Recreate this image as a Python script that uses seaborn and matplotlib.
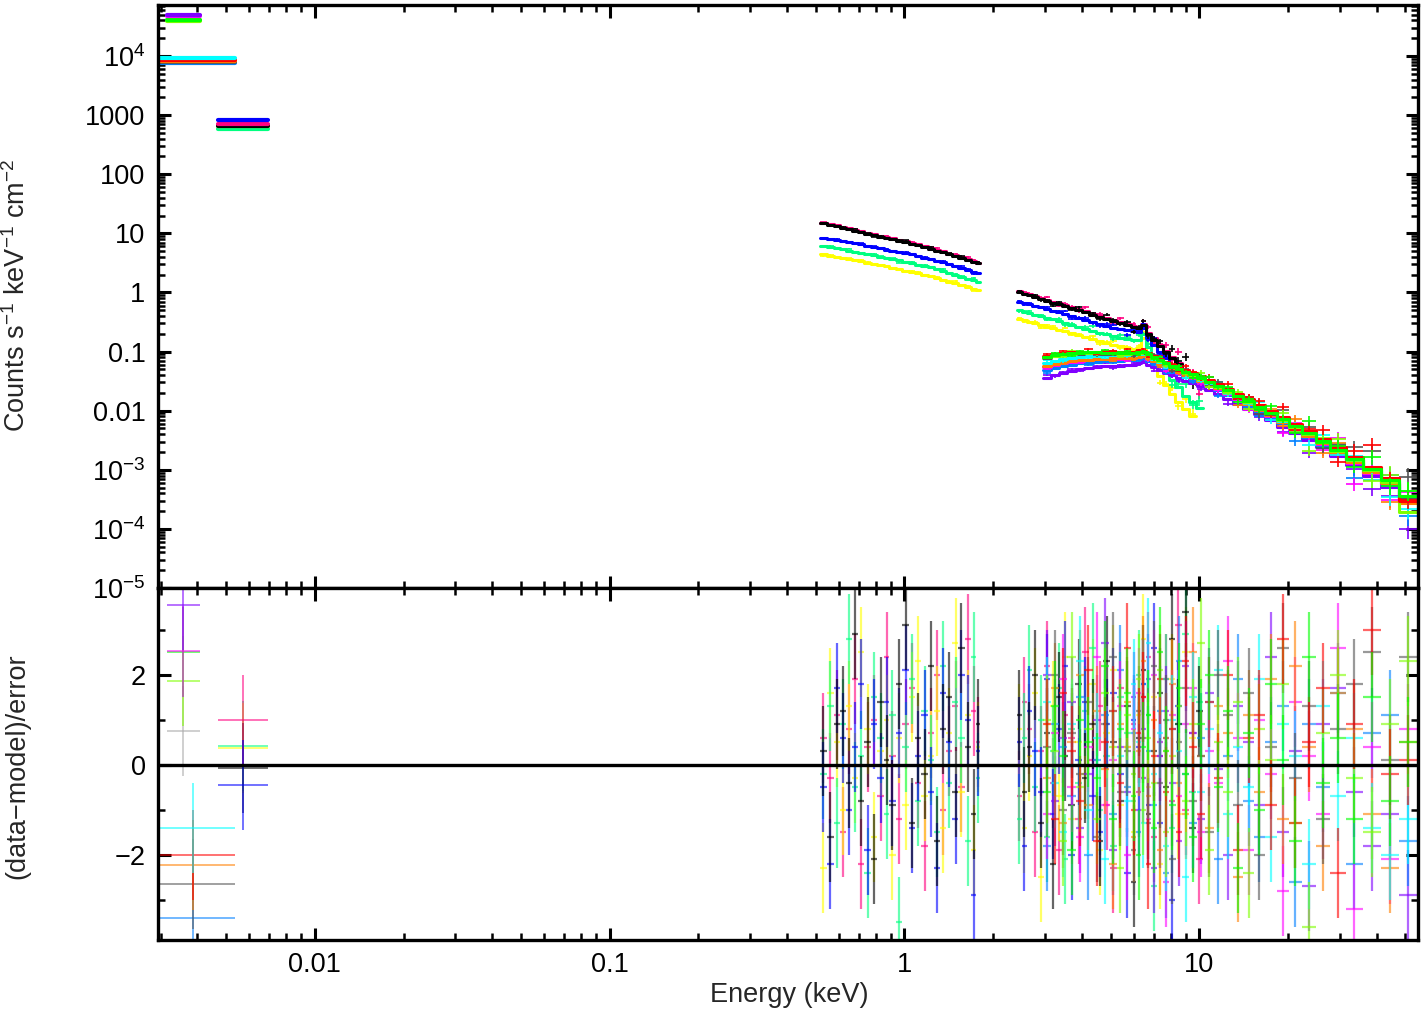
import numpy as np
import matplotlib.pyplot as plt
import matplotlib.ticker as mticker
import seaborn as sns

# ---- energy grids (bin centres, keV) ----
e_soft = [0.53, 0.56, 0.59, 0.62, 0.65, 0.68, 0.71, 0.75, 0.79, 0.83, 0.87, 0.91, 0.96,
          1.01, 1.06, 1.11, 1.17, 1.23, 1.29, 1.35, 1.42, 1.49, 1.56, 1.64, 1.72, 1.78]
e_hard = [2.45, 2.55, 2.65, 2.78, 2.9, 3.05, 3.2, 3.35, 3.5, 3.7, 3.9, 4.1, 4.35, 4.6, 4.85,
          5.1, 5.4, 5.7, 6.0, 6.25, 6.45, 6.7, 7.0, 7.35, 7.7, 8.1, 8.5, 9.0, 9.5, 10.0]
e_wide = [3.05, 3.25, 3.45, 3.7, 3.95, 4.2, 4.5, 4.8, 5.1, 5.4, 5.7, 6.0, 6.25, 6.45, 6.7,
          7.0, 7.35, 7.7, 8.1, 8.55, 9.0, 9.5, 10.1, 10.8, 11.6, 12.5, 13.5, 14.7, 16.0, 17.5,
          19.2, 21.2, 23.5, 26.2, 29.5, 33.5, 38.5, 44.5, 51.0]

# fractional 1-sigma errors on each grid
err_soft = [0.025, 0.025, 0.025, 0.025, 0.025, 0.025, 0.025, 0.025, 0.025, 0.025, 0.025, 0.025, 0.025,
            0.025, 0.028, 0.028, 0.028, 0.028, 0.03, 0.03, 0.03, 0.032, 0.032, 0.035, 0.035, 0.04]
err_hard = [0.04, 0.04, 0.04, 0.045, 0.045, 0.05, 0.05, 0.05, 0.055, 0.055, 0.06, 0.06, 0.065, 0.065, 0.07,
            0.07, 0.075, 0.08, 0.08, 0.08, 0.08, 0.09, 0.1, 0.11, 0.12, 0.13, 0.14, 0.16, 0.18, 0.2]
err_wide = [0.06, 0.055, 0.05, 0.05, 0.05, 0.05, 0.05, 0.05, 0.05, 0.05, 0.05, 0.05, 0.05, 0.05, 0.055,
            0.06, 0.06, 0.065, 0.07, 0.07, 0.075, 0.08, 0.085, 0.09, 0.095, 0.1, 0.11, 0.12, 0.13, 0.14,
            0.15, 0.17, 0.19, 0.21, 0.23, 0.26, 0.29, 0.32, 0.36]

# ---- soft band models (counts s-1 keV-1 cm-2) and residuals ----
soft_pink = [15.2, 14.4, 13.6, 12.8, 12.1, 11.4, 10.8, 10.2, 9.6, 9.1, 8.6, 8.2, 7.7,
             7.3, 6.9, 6.5, 6.1, 5.7, 5.3, 4.95, 4.55, 4.25, 3.95, 3.65, 3.35, 3.2]
soft_black = [14.8, 14.0, 13.2, 12.4, 11.7, 11.1, 10.5, 9.9, 9.3, 8.8, 8.3, 7.9, 7.5,
              7.1, 6.7, 6.3, 5.9, 5.5, 5.1, 4.8, 4.4, 4.1, 3.8, 3.5, 3.25, 3.1]
soft_blue = [8.5, 8.1, 7.8, 7.4, 7.1, 6.8, 6.5, 6.2, 5.9, 5.6, 5.3, 5.1, 4.8,
             4.6, 4.4, 4.1, 3.9, 3.7, 3.45, 3.25, 3.0, 2.8, 2.6, 2.4, 2.25, 2.1]
soft_spring = [6.2, 5.9, 5.6, 5.4, 5.1, 4.9, 4.7, 4.5, 4.3, 4.05, 3.85, 3.7, 3.5,
               3.3, 3.15, 2.95, 2.8, 2.65, 2.48, 2.32, 2.15, 2.0, 1.86, 1.72, 1.6, 1.5]
soft_yellow = [4.4, 4.2, 4.0, 3.85, 3.65, 3.5, 3.35, 3.2, 3.05, 2.9, 2.75, 2.6, 2.5,
               2.35, 2.22, 2.1, 1.98, 1.87, 1.75, 1.64, 1.53, 1.42, 1.33, 1.23, 1.15, 1.08]

res_soft_pink = [0.6, -0.3, 1.1, -1.5, 0.8, 1.9, -2.2, 0.4, 1.0, -0.7, 2.4, 0.2, -1.2,
                 0.9, 1.7, -0.4, -1.8, 0.7, 2.0, -1.0, 0.3, 1.3, -0.5, 2.8, 1.2, 0.5]
res_soft_black = [0.3, -1.6, 0.9, 1.2, -0.4, 2.9, -0.8, 0.5, -2.1, 1.4, 0.1, -0.9, 1.8,
                  3.1, -1.3, 0.6, -0.2, 2.2, -1.7, 0.8, 1.5, -0.6, 2.6, 0.4, -1.1, 0.9]
res_soft_blue = [-0.5, -2.2, 1.7, 0.6, -1.0, 0.4, 1.8, -1.9, 0.9, -0.3, 1.4, -0.8, 0.7,
                 2.1, -1.4, 0.2, 1.1, -0.6, -2.3, 1.6, 0.5, -1.2, 2.0, 1.0, -2.9, 0.3]
res_soft_spring = [-0.2, 1.3, -1.3, 0.9, 2.8, -0.5, 0.2, -2.4, 1.5, 0.6, -1.1, 1.1, -3.5,
                   0.4, 1.9, -0.8, 1.2, 0.1, -1.5, 2.2, -0.4, 1.4, 0.6, -1.7, 2.4, -0.3]
res_soft_yellow = [-2.3, 1.6, 0.5, -1.0, 1.3, -0.3, 2.5, 0.8, -1.6, 0.3, 1.0, -2.0, 0.6,
                   -0.9, 1.5, 2.3, -0.7, 0.2, 1.2, -1.4, 0.7, 2.7, -0.6, 1.1, -1.9, 0.4]

# ---- hard band, same instruments ----
hard_pink = [1.04, 0.98, 0.93, 0.86, 0.81, 0.75, 0.70, 0.66, 0.61, 0.56, 0.52, 0.48, 0.44, 0.405, 0.375,
             0.345, 0.32, 0.29, 0.27, 0.26, 0.29, 0.21, 0.167, 0.13, 0.102, 0.081, 0.064, 0.049, 0.037, 0.029]
hard_black = [1.0, 0.94, 0.89, 0.83, 0.78, 0.72, 0.67, 0.63, 0.59, 0.54, 0.50, 0.46, 0.42, 0.39, 0.36,
              0.33, 0.305, 0.28, 0.26, 0.25, 0.28, 0.2, 0.16, 0.125, 0.098, 0.078, 0.062, 0.047, 0.036, 0.028]
hard_blue = [0.70, 0.66, 0.63, 0.59, 0.56, 0.52, 0.49, 0.46, 0.43, 0.40, 0.37, 0.345, 0.32, 0.295, 0.275,
             0.255, 0.24, 0.228, 0.22, 0.215, 0.25, 0.17, 0.13, 0.1, 0.078, 0.06, 0.047]
hard_spring = [0.50, 0.475, 0.45, 0.42, 0.40, 0.37, 0.35, 0.33, 0.31, 0.285, 0.265, 0.245, 0.225, 0.21, 0.195,
               0.182, 0.172, 0.165, 0.16, 0.16, 0.20, 0.12, 0.085, 0.062, 0.045, 0.033, 0.025, 0.018, 0.014, 0.011]
hard_yellow = [0.36, 0.34, 0.32, 0.30, 0.285, 0.265, 0.25, 0.235, 0.22, 0.205, 0.19, 0.175, 0.162, 0.15, 0.14,
               0.13, 0.122, 0.116, 0.112, 0.115, 0.17, 0.08, 0.055, 0.038, 0.027, 0.019, 0.014, 0.0105, 0.008]

res_hard_pink = [-0.7, 1.4, 0.8, -1.5, 0.3, 2.2, -0.4, -1.9, 1.1, 0.6, -1.2, 2.5, 0.1, 1.3, -0.9,
                 -2.3, 1.7, 0.4, 0.9, -0.6, 1.5, 2.4, -1.6, 0.2, 1.9, -0.8, 3.1, -1.0, 0.7, -2.1]
res_hard_black = [1.1, -0.6, 0.4, 2.0, -1.3, 0.7, -2.2, 1.5, 0.2, -0.9, 1.8, -0.3, 0.9, -1.7, 2.3,
                  0.5, -0.8, 1.3, -2.6, 0.6, 2.1, -1.1, 0.3, 1.6, -0.5, 2.8, 0.9, 3.4, -1.4, 1.2]
res_hard_blue = [0.5, -1.8, 1.2, 0.3, -0.6, 1.9, -1.1, 0.8, 2.2, -2.0, 0.1, 1.4, -0.7, -1.5, 0.9,
                 1.6, -0.2, -2.4, 1.0, 0.4, 1.8, -0.9, 2.6, -1.3, 0.6, -3.0, 1.3]
res_hard_spring = [-1.2, 0.6, 2.1, -0.5, 1.0, -1.6, 0.3, 1.7, -2.1, 0.8, -0.4, 1.2, 2.6, -1.0, 0.2,
                   -1.8, 1.5, 0.7, -0.8, 2.0, -0.3, 1.1, -2.7, 0.5, 1.9, -1.4, 0.9, 2.9, -0.6, 1.4]
res_hard_yellow = [0.8, -1.4, 0.2, 1.6, -2.5, 0.9, 1.3, -0.7, 2.4, -1.2, 0.5, -0.2, 1.8, -1.9, 0.7,
                   2.1, -0.9, 0.4, -1.5, 1.1, 2.8, -0.5, 1.5, -2.2, 0.3, 1.9, -1.1, 2.5, 0.6]

# ---- broad band (3-55 keV) spectra ----
wide_purple = [0.036, 0.040, 0.044, 0.047, 0.050, 0.052, 0.054, 0.056, 0.057, 0.058, 0.059, 0.060, 0.063,
               0.067, 0.060, 0.054, 0.049, 0.044, 0.040, 0.036, 0.032, 0.029, 0.026, 0.022, 0.019, 0.016,
               0.0132, 0.0108, 0.0087, 0.0069, 0.0054, 0.0042, 0.0032, 0.0024, 0.0017, 0.0012, 0.0008,
               0.00052, 0.00028]
wide_lightblue = [0.048, 0.053, 0.057, 0.06, 0.063, 0.065, 0.067, 0.068, 0.069, 0.07, 0.071, 0.072, 0.075,
                  0.078, 0.07, 0.063, 0.057, 0.051, 0.046, 0.041, 0.037, 0.034, 0.03, 0.026, 0.022, 0.0185,
                  0.0152, 0.0124, 0.01, 0.0079, 0.0062, 0.0047, 0.0036, 0.0026, 0.0019, 0.0013, 0.00088,
                  0.00058, 0.0003]
wide_magenta = [0.055, 0.06, 0.064, 0.067, 0.07, 0.072, 0.074, 0.075, 0.076, 0.076, 0.077, 0.078, 0.081,
                0.084, 0.076, 0.068, 0.061, 0.055, 0.049, 0.044, 0.040, 0.036, 0.032, 0.027, 0.023, 0.0195,
                0.016, 0.013, 0.0104, 0.0082, 0.0064, 0.0049, 0.0037, 0.0027, 0.0019, 0.0013, 0.0009,
                0.0006, 0.00032]
wide_orange = [0.058, 0.062, 0.066, 0.069, 0.071, 0.073, 0.075, 0.076, 0.077, 0.077, 0.078, 0.079, 0.082,
               0.085, 0.077, 0.069, 0.062, 0.056, 0.050, 0.045, 0.041, 0.037, 0.032, 0.028, 0.024, 0.020,
               0.0163, 0.0132, 0.0106, 0.0083, 0.0065, 0.0050, 0.0038, 0.0028, 0.00195, 0.00135, 0.00092,
               0.0006, 0.00027]
wide_cyan = [0.065, 0.07, 0.074, 0.078, 0.081, 0.083, 0.085, 0.086, 0.086, 0.086, 0.086, 0.087, 0.090,
             0.093, 0.084, 0.075, 0.067, 0.060, 0.054, 0.048, 0.043, 0.039, 0.034, 0.029, 0.025, 0.021,
             0.017, 0.0138, 0.011, 0.0087, 0.0068, 0.0052, 0.0040, 0.0029, 0.0021, 0.00148, 0.001,
             0.00065, 0.00033]
wide_grey = [0.078, 0.083, 0.087, 0.09, 0.092, 0.093, 0.093, 0.092, 0.091, 0.09, 0.09, 0.091, 0.094,
             0.096, 0.087, 0.077, 0.069, 0.062, 0.055, 0.049, 0.044, 0.04, 0.035, 0.03, 0.0255, 0.0213,
             0.0175, 0.0141, 0.0113, 0.0089, 0.007, 0.0054, 0.0041, 0.003, 0.0022, 0.0015, 0.001,
             0.00066, 0.00032]
wide_lime = [0.08, 0.085, 0.089, 0.092, 0.094, 0.095, 0.095, 0.094, 0.093, 0.092, 0.092, 0.093, 0.096,
             0.098, 0.088, 0.078, 0.07, 0.063, 0.056, 0.05, 0.045, 0.04, 0.035, 0.03, 0.0255, 0.0215,
             0.0176, 0.0142, 0.0114, 0.009, 0.007, 0.0054, 0.0041, 0.003, 0.0021, 0.0015, 0.001,
             0.00062, 0.00019]
wide_red = [0.085, 0.09, 0.094, 0.097, 0.099, 0.1, 0.1, 0.099, 0.098, 0.097, 0.097, 0.098, 0.101,
            0.103, 0.093, 0.083, 0.074, 0.066, 0.059, 0.053, 0.048, 0.043, 0.038, 0.033, 0.028, 0.0235,
            0.0195, 0.0157, 0.0126, 0.0099, 0.0077, 0.0059, 0.0045, 0.0033, 0.0024, 0.00165, 0.0011,
            0.00072, 0.0003]
wide_green = [0.082, 0.087, 0.091, 0.094, 0.096, 0.097, 0.097, 0.096, 0.095, 0.094, 0.094, 0.095, 0.098,
              0.100, 0.090, 0.080, 0.071, 0.064, 0.057, 0.051, 0.046, 0.041, 0.036, 0.031, 0.026, 0.022,
              0.018, 0.0145, 0.0117, 0.0092, 0.0072, 0.0055, 0.0042, 0.0031, 0.0022, 0.00155, 0.00105,
              0.00068, 0.00036]

res_wide_purple = [2.0, -0.8, 0.6, 1.4, -1.4, -0.2, 1.0, 2.7, -1.9, 0.4, -0.6, 1.5, -1.0, 0.8, 1.9,
                   -2.3, 0.2, 1.2, -0.4, -1.7, 2.2, 0.7, -1.2, 1.6, -0.1, -2.0, 1.3, 0.5, -0.9, 2.4,
                   -1.5, 0.3, -2.7, 0.9, 1.7, -0.6, -1.8, -1.1, -2.9]
res_wide_lightblue = [-1.8, 0.9, 0.4, -0.7, 1.5, -2.0, 0.1, 1.1, -1.1, 2.1, -0.5, 0.7, -1.5, 1.8, 0.3,
                      -0.9, 1.2, -2.4, 0.8, 2.3, -0.2, -1.3, 0.6, 1.4, -2.1, 0.2, 1.9, -0.8, -1.6, 0.5,
                      1.3, -2.6, 0.9, -0.5, 1.6, -2.2, 0.7, 1.1, -1.7]
res_wide_magenta = [-1.1, 0.7, 1.9, -0.5, -1.6, 0.4, 2.4, -0.9, 0.1, 1.3, -2.0, 0.8, 1.6, -0.3, -1.2,
                    2.0, 0.5, -2.6, 1.1, -0.7, 0.9, 1.7, -1.5, 0.3, -0.4, 2.3, 0.6, -1.9, 1.0, -0.2,
                    -2.8, 1.4, 0.2, -1.1, 2.6, -3.2, 0.4, -2.1, 0.8]
res_wide_orange = [-0.3, 1.7, -1.3, 0.5, 2.0, -0.9, 1.2, -0.1, -2.2, 0.9, 1.4, -1.6, 0.3, 2.3, -0.7,
                   1.0, -1.9, 0.6, 1.8, -0.4, -1.1, 2.5, 0.2, -1.4, 1.3, 0.7, -2.5, 1.1, -0.6, 1.9,
                   -1.2, 2.2, 0.4, -1.8, 1.6, 0.8, -1.1, -2.3, 0.5]
res_wide_cyan = [1.4, -0.4, -1.5, 0.9, 2.3, -1.0, 0.6, -2.1, 1.2, 0.2, -0.8, 1.8, 0.5, -1.3, 2.7,
                 -0.2, 0.7, -1.8, 1.0, 0.3, -2.5, 1.5, -0.6, 0.8, 2.1, -1.1, 0.4, -0.5, 1.9, -1.6,
                 0.9, 0.2, -2.2, 1.3, -0.7, 0.6, -1.4, -2.0, -1.2]
res_wide_grey = [0.4, 2.0, -1.0, 0.7, -0.2, 1.4, -1.6, 0.9, 2.4, -0.6, 0.3, -1.9, 1.2, 0.6, -1.3,
                 2.2, -0.4, 1.0, -2.1, 0.5, 1.7, -0.8, 0.2, -1.5, 2.0, 1.1, -0.9, 1.6, -2.0, 0.4,
                 2.6, -0.3, 1.3, -1.2, 0.8, 1.8, 2.5, 0.1, 2.4]
res_wide_lime = [1.0, 0.3, -1.7, 2.4, -0.5, 0.8, -1.2, 1.6, 0.4, -2.3, 1.1, -0.2, 1.9, -1.0, 0.6,
                 -0.4, 2.1, -1.5, 0.2, 1.3, -0.8, 0.9, 2.7, -1.9, 0.5, -0.6, 1.4, -2.4, 0.8, 0.1,
                 1.8, -1.3, -3.6, 0.7, 2.0, -0.3, -1.5, 0.9, 2.3]
res_wide_red = [0.9, -1.2, 1.6, 0.3, -0.8, 2.1, -1.7, 0.5, 1.2, -0.4, 2.6, -1.0, 0.7, 1.5, -2.2,
                0.2, 1.9, -0.6, 0.8, -1.5, 2.3, 0.4, -1.1, 1.4, -0.3, 2.0, -1.9, 0.6, 1.1, -0.9,
                2.8, -1.3, 0.5, 1.7, -2.4, 0.9, 3.0, -0.2, 0.1]
res_wide_green = [-0.6, 1.3, 0.2, -1.9, 1.0, 0.5, -0.3, 2.2, -1.2, 0.8, 1.6, -0.7, -2.0, 0.4, 1.1,
                  -1.4, 2.5, 0.3, -0.9, 1.7, -0.2, -1.6, 0.9, 2.0, -0.5, 1.2, -2.3, 0.7, -1.0, 1.8,
                  0.1, -1.7, 2.4, -0.4, 0.6, -1.2, 1.5, -0.8, 0.5]

# ---- optical/UV photometric points: bin edges (keV), rates, residuals ----
uv_lo = [0.00315, 0.0028, 0.00469]
uv_hi = [0.00407, 0.00536, 0.00693]
uv1_colors = ['lightgrey', 'lime', 'green', 'magenta', 'purple']
uv1_rate = [4.1e4, 3.9e4, 4.0e4, 4.7e4, 4.9e4]
uv1_res = [0.76, 1.87, 2.5, 2.52, 3.56]
uv2_colors = ['lightblue', 'darkgrey', 'orange', 'red', 'cyan']
uv2_rate = [7.7e3, 8.0e3, 8.3e3, 8.6e3, 9.3e3]
uv2_res = [-3.4, -2.64, -2.22, -2.0, -1.4]
uv3_colors = ['spring', 'yellow', 'black', 'pink', 'blue']
uv3_rate = [590, 650, 660, 700, 830]
uv3_res = [0.42, 0.38, -0.07, 1.0, -0.44]

xspec = {'black': '#000000', 'red': '#ff0000', 'green': '#00ff00', 'blue': '#0000ff',
         'cyan': '#00ffff', 'magenta': '#ff00ff', 'yellow': '#ffff00', 'orange': '#ff8000',
         'lime': '#80ff00', 'spring': '#00ff80', 'lightblue': '#0080ff', 'purple': '#8000ff',
         'pink': '#ff0080', 'darkgrey': '#555555', 'lightgrey': '#aaaaaa'}


def edges_of(centres):
    lc = np.log10(centres)
    mid = (lc[1:] + lc[:-1]) / 2
    return 10 ** np.concatenate([[2 * lc[0] - mid[0]], mid, [2 * lc[-1] - mid[-1]]])


def draw_spectrum(ax_top, ax_res, grid, relerr, model, resid, cname):
    c = xspec[cname]
    n = min(len(model), len(resid))
    edges = edges_of(np.array(grid))[:n + 1]
    e = np.array(grid[:n])
    m = np.array(model[:n])
    r = np.array(resid[:n])
    f = np.array(relerr[:n])
    xerr = [e - edges[:-1], edges[1:] - e]
    data = m * np.exp(r * f)
    yerr = [data * (1 - np.exp(-f)), data * (np.exp(f) - 1)]
    ax_top.errorbar(e, data, xerr=xerr, yerr=yerr, fmt='none', ecolor=c, elinewidth=1.2, capsize=0)
    sns.lineplot(x=edges, y=np.append(m, m[-1]), drawstyle='steps-post', color=c, lw=2.2,
                 estimator=None, sort=False, ax=ax_top)
    ax_res.errorbar(e, r, xerr=xerr, yerr=1, fmt='none', ecolor=c, elinewidth=1.6,
                    alpha=0.6, capsize=0)


def draw_uv(ax_top, ax_res, k, colors, rates, resids):
    lo, hi = uv_lo[k], uv_hi[k]
    mid = np.sqrt(lo * hi)
    for cname, rate, res in zip(colors, rates, resids):
        c = xspec[cname]
        sns.lineplot(x=[lo, hi], y=[rate, rate], color=c, lw=3.0, estimator=None, sort=False, ax=ax_top)
        ax_top.errorbar([mid], [rate], yerr=[[rate * 0.02], [rate * 0.02]], fmt='none', ecolor=c, elinewidth=1)
        ax_res.errorbar([mid], [res], xerr=[[mid - lo], [hi - mid]], yerr=1, fmt='none',
                        ecolor=c, elinewidth=1.3, alpha=0.6, capsize=0)


sns.set_theme(style='ticks')
plt.rcParams['font.family'] = ['Liberation Sans', 'DejaVu Sans']
plt.rcParams['mathtext.fontset'] = 'custom'
plt.rcParams['mathtext.rm'] = 'Liberation Sans'
plt.rcParams['mathtext.it'] = 'Liberation Sans'
plt.rcParams['axes.unicode_minus'] = True

fig = plt.figure(figsize=(14.25, 10.13), dpi=100)
ax = fig.add_axes([0.1109, 0.4195, 0.8842, 0.5756])
axr = fig.add_axes([0.1109, 0.0721, 0.8842, 0.3474], sharex=ax)
for a in (ax, axr):
    a.set_xscale('log')
ax.set_yscale('log')

draw_uv(ax, axr, 0, uv1_colors, uv1_rate, uv1_res)
draw_uv(ax, axr, 1, uv2_colors, uv2_rate, uv2_res)
draw_uv(ax, axr, 2, uv3_colors, uv3_rate, uv3_res)

soft = [(soft_pink, res_soft_pink, 'pink'), (soft_yellow, res_soft_yellow, 'yellow'),
        (soft_spring, res_soft_spring, 'spring'), (soft_blue, res_soft_blue, 'blue'),
        (soft_black, res_soft_black, 'black')]
for mod, res, cn in soft:
    draw_spectrum(ax, axr, e_soft, err_soft, mod, res, cn)

hard = [(hard_pink, res_hard_pink, 'pink'), (hard_yellow, res_hard_yellow, 'yellow'),
        (hard_spring, res_hard_spring, 'spring'), (hard_blue, res_hard_blue, 'blue'),
        (hard_black, res_hard_black, 'black')]
for mod, res, cn in hard:
    draw_spectrum(ax, axr, e_hard, err_hard, mod, res, cn)

wide = [(wide_purple, res_wide_purple, 'purple'), (wide_lightblue, res_wide_lightblue, 'lightblue'),
        (wide_magenta, res_wide_magenta, 'magenta'), (wide_orange, res_wide_orange, 'orange'),
        (wide_cyan, res_wide_cyan, 'cyan'), (wide_grey, res_wide_grey, 'darkgrey'),
        (wide_lime, res_wide_lime, 'lime'), (wide_red, res_wide_red, 'red'),
        (wide_green, res_wide_green, 'green')]
for mod, res, cn in wide:
    draw_spectrum(ax, axr, e_wide, err_wide, mod, res, cn)

axr.axhline(0, color='black', lw=2.4, zorder=10)

# axes limits and ticks
ax.set_xlim(0.00294, 55.2)
ax.set_ylim(1e-5, 7.3e4)
axr.set_ylim(-3.89, 3.93)

ytick_vals = [1e-5, 1e-4, 1e-3, 0.01, 0.1, 1, 10, 100, 1000, 1e4]
ytick_labels = [r'$\mathregular{10^{-5}}$', r'$\mathregular{10^{-4}}$', r'$\mathregular{10^{-3}}$',
                '0.01', '0.1', '1', '10', '100', '1000', r'$\mathregular{10^{4}}$']
ax.yaxis.set_major_locator(mticker.FixedLocator(ytick_vals))
ax.yaxis.set_major_formatter(mticker.FixedFormatter(ytick_labels))
ax.yaxis.set_minor_locator(mticker.LogLocator(base=10, subs=np.arange(2, 10), numticks=30))
ax.yaxis.set_minor_formatter(mticker.NullFormatter())

xtick_vals = [0.01, 0.1, 1, 10]
axr.xaxis.set_major_locator(mticker.FixedLocator(xtick_vals))
axr.xaxis.set_major_formatter(mticker.FixedFormatter(['0.01', '0.1', '1', '10']))
axr.xaxis.set_minor_locator(mticker.LogLocator(base=10, subs=np.arange(2, 10), numticks=30))
axr.xaxis.set_minor_formatter(mticker.NullFormatter())
axr.yaxis.set_major_locator(mticker.MultipleLocator(2))
axr.yaxis.set_minor_locator(mticker.MultipleLocator(1))

for a in (ax, axr):
    a.tick_params(which='both', direction='in', top=True, right=True, labelsize=19.5, colors='black')
    a.tick_params(which='major', length=9, width=2.2, pad=9)
    a.tick_params(which='minor', length=5, width=1.8)
    for s in a.spines.values():
        s.set_linewidth(2.4)
        s.set_color('black')
    a.set_xlabel('')
    a.set_ylabel('')
ax.tick_params(labelbottom=False)

fig.text(0.012, 0.708, r'Counts s$^{-1}$ keV$^{-1}$ cm$^{-2}$', rotation=90,
         ha='center', va='center', fontsize=19.5)
fig.text(0.012, 0.244, '(data\u2212model)/error', rotation=90,
         ha='center', va='center', fontsize=19.5)
fig.text(0.554, 0.0175, 'Energy (keV)', ha='center', va='center', fontsize=19.5)

fig.savefig('out.png', dpi=100)
plt.close(fig)
